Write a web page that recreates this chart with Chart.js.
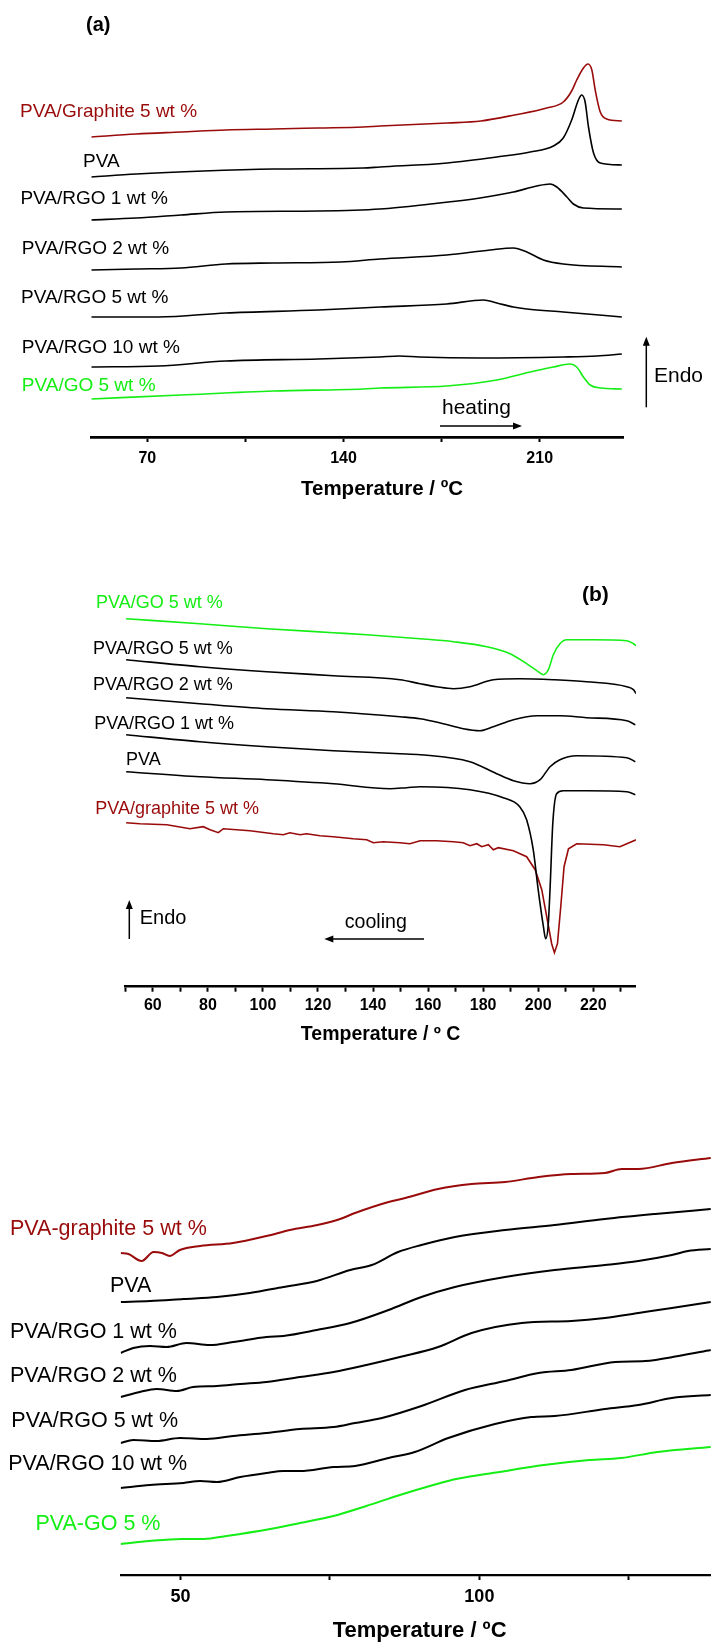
<!DOCTYPE html>
<html>
<head>
<meta charset="utf-8">
<script src="https://cdn.jsdelivr.net/npm/chart.js@4/dist/chart.umd.min.js"></script>
<style>
  html, body { margin:0; padding:0; background:#fff; }
  body { width:711px; height:1644px; overflow:hidden; position:relative; }
  canvas { position:absolute; left:0; }
</style>
</head>
<body>
<canvas id="ca" width="711" height="510" style="top:0px"></canvas>
<canvas id="cb" width="711" height="520" style="top:540px"></canvas>
<canvas id="cc" width="760" height="554" style="top:1090px"></canvas>
<script>
// ---------- DATA (temperature °C, heat flow a.u. with vertical offsets) ----------
// (a) heating scans
const heatGraphite = [[50,30.0],[66,30.3],[82,30.5],[98,30.7],[115,30.8],[131,30.9],[147,31.0],[153,31.1],[177,31.4],[189,31.6],[201,32.2],[212.5,32.9],[218.4,33.5],[221.4,34.6],[223.2,35.7],[225.6,36.9],[227.2,37.3],[228.6,36.7],[229.8,34.7],[231.6,32.5],[233.9,31.8],[239.3,31.6]];
const heatPVA = [[50,26.0],[66,26.3],[90,26.6],[115,26.8],[147,26.9],[153,27.0],[177,27.4],[194.7,28.0],[206.6,28.5],[214.9,29.1],[218.4,29.9],[221.4,31.7],[223.8,33.7],[225,34.2],[226.2,33.5],[227.4,31.0],[229.2,28.4],[231.6,27.4],[239.3,27.2]];
const heatRGO1 = [[50,21.7],[66,21.9],[82,22.2],[98,22.5],[131,22.6],[153,22.8],[171,23.3],[188.7,23.9],[200.6,24.5],[209,25.1],[213.7,25.3],[216.1,25.0],[219.7,24.0],[222,23.3],[225.6,22.9],[239.3,22.8]];
const heatRGO2 = [[50,16.7],[66,16.8],[82,16.9],[98,17.3],[115,17.4],[139,17.5],[153,17.8],[176.8,18.2],[192.3,18.7],[200.6,18.9],[205.4,18.5],[211.3,17.7],[218.4,17.3],[239.3,17.0]];
const heatRGO5 = [[50,12.0],[74,12.0],[98,12.4],[131,12.7],[153,13.0],[176.8,13.3],[189.9,13.7],[194.7,13.4],[200.6,13.0],[205.4,12.8],[218.4,12.5],[239.3,12.0]];
const heatRGO10 = [[50,7.0],[74,7.1],[98,7.6],[131,7.8],[153,8.0],[160,8.1],[167,8.0],[188.7,7.9],[218.4,8.0],[230.4,8.1],[239.3,8.3]];
const heatGO = [[50,3.8],[82,4.2],[115,4.6],[147,4.8],[153,4.9],[176.8,5.1],[194.7,5.7],[206.6,6.5],[214.9,7.0],[220.8,7.3],[223.2,7.0],[225.6,6.0],[228,5.2],[231.6,4.9],[239.3,4.8]];
const heatTicks = [70,105,140,175,210];
const heatTickLabels = [70,140,210];

// (b) cooling scans
const coolGO = [[50.3,36.8],[77.1,36.3],[101.4,35.8],[125.6,35.4],[137.7,35.2],[157.1,34.8],[169.2,34.5],[181.3,34.0],[189.8,33.3],[195.8,32.3],[199.5,31.6],[201.9,31.2],[203.7,31.7],[205.5,33.2],[207.9,34.3],[210.4,34.7],[220,34.7],[232.2,34.6],[234.6,34.3],[235.6,34.1]];
const coolRGO5 = [[50.3,32.7],[77.1,32.0],[101.4,31.5],[125.6,31.1],[149.8,30.7],[157.1,30.3],[163.1,30.0],[169.2,29.8],[175.2,30.0],[183.7,30.7],[193.3,30.8],[205.5,30.7],[217.6,30.5],[232.2,30.0],[234.6,29.7],[235.6,29.3]];
const coolRGO2 = [[50.3,28.9],[77.1,28.3],[101.4,27.8],[125.6,27.5],[149.8,27.0],[157.1,26.8],[165.5,26.3],[172.8,25.8],[178.8,25.6],[183.7,26.0],[191,26.7],[199.5,27.1],[207.9,27.1],[217.6,26.9],[232.2,26.6],[235.3,26.2]];
const coolRGO1 = [[50.3,25.2],[77.1,24.5],[101.4,24.0],[125.6,23.6],[149.8,23.3],[157.1,23.2],[175.2,22.5],[184.9,21.3],[191,20.6],[197,20.3],[200.7,20.7],[204.3,22.0],[207.9,22.7],[214,23.1],[232.2,22.9],[235.3,22.5]];
const coolPVA = [[50.3,21.5],[77.1,21.0],[101.4,20.7],[125.6,20.3],[146.2,19.8],[152.2,19.9],[157.1,20.0],[175.2,19.7],[187.3,18.9],[193.3,18.0],[195.8,16.7],[198.2,13.7],[200,9.7],[201.9,6.0],[202.7,4.8],[203.6,6.0],[204.3,9.7],[205.3,16.3],[206.7,19.3],[209.1,19.6],[217.6,19.6],[232.2,19.5],[235.3,19.2]];
const coolGraphite = [[50.3,16.4],[55.3,16.3],[65.1,16.2],[73.5,15.8],[78.3,16.0],[80.8,15.7],[83.8,15.4],[85.6,15.8],[95.3,15.6],[103.8,15.3],[107.4,15.2],[109.8,15.4],[113.5,15.2],[115.9,15.3],[120.7,15.1],[125.6,15.0],[132.8,14.8],[137.7,14.7],[140.1,14.4],[143.7,14.5],[149.8,14.4],[153.4,14.3],[157.1,14.6],[163.1,14.6],[169.2,14.5],[172.8,14.4],[175.2,14.1],[177.7,14.3],[179.5,14.0],[181.9,14.2],[183.7,13.7],[185.5,13.9],[191,13.6],[195.8,13.0],[198.9,11.7],[201.3,9.7],[203.1,7.0],[204.9,4.3],[205.9,3.4],[207,4.3],[208.2,8.0],[209.4,12.0],[211,13.8],[214,14.3],[223.7,14.2],[229.7,14.0],[232.2,14.3],[235.6,14.7]];
const coolTicks = [50,60,70,80,90,100,110,120,130,140,150,160,170,180,190,200,210,220,230];
const coolTickLabels = [60,80,100,120,140,160,180,200,220];

// (c) glass transition region
const tgGraphite = [[40,32.2],[41.3,32.1],[43.5,31.4],[45.5,32.3],[46.9,32.2],[48.2,31.9],[49.9,32.5],[53.3,32.9],[58.8,33.2],[64.4,33.9],[68.3,34.5],[72.9,35.0],[76.7,35.6],[79.2,36.2],[84.8,37.3],[87.6,37.7],[93.1,38.6],[98.7,39.1],[104.3,39.3],[109.9,39.8],[115.4,40.1],[121,40.2],[123.8,40.6],[126.6,40.6],[132.2,41.2],[138.7,41.7]];
const tgPVA = [[40,27.3],[44.9,27.4],[50.5,27.6],[56.1,27.8],[61.6,28.2],[67.2,28.8],[72.8,29.4],[78.4,30.5],[82,31.0],[86.4,32.3],[90.3,33.0],[95.9,33.8],[104.3,34.5],[112.6,35.0],[121,35.6],[129.4,36.1],[138.7,36.6]];
const tgRGO1 = [[40,22.2],[42.1,22.7],[44.9,22.9],[47.7,22.8],[51,23.2],[54.9,23.0],[58.8,23.3],[64.4,23.8],[67.2,23.9],[72.8,24.5],[78.4,25.2],[84.8,26.5],[90.3,27.8],[95.9,28.8],[104.3,29.8],[112.6,30.5],[121,31.0],[126.6,31.4],[132.2,32.0],[134.9,32.4],[138.7,32.6]];
const tgRGO2 = [[40,17.8],[43.2,18.3],[46,18.6],[49.4,18.4],[52.1,18.8],[56.1,18.9],[60,19.1],[64.4,19.3],[70,19.8],[75.6,20.3],[81.1,21.0],[86.7,21.8],[93.1,22.8],[98.7,24.2],[107.1,25.2],[115.4,25.4],[121,25.7],[126.6,26.2],[132.2,26.7],[138.7,27.3]];
const tgRGO5 = [[40,13.2],[42.1,13.5],[46,13.4],[49.9,13.7],[54.4,13.6],[58.8,13.9],[64.4,14.2],[70,14.6],[75.6,14.8],[79.2,15.2],[83.7,15.7],[90.3,16.9],[97.6,18.5],[104.3,19.4],[109.9,20.2],[115.4,20.5],[122.7,21.3],[127.7,21.4],[133.3,21.9],[138.7,22.5]];
const tgRGO10 = [[40,8.7],[44.9,9.0],[50.5,9.2],[53.3,9.4],[56.1,9.3],[60,9.8],[64.4,10.2],[67.2,10.4],[70,10.4],[75.6,10.8],[79.2,10.9],[84.8,11.7],[89.2,12.3],[94.8,13.7],[102.6,15.1],[108.7,15.8],[112.6,15.9],[121,16.6],[126.6,17.0],[132.2,17.7],[138.7,18.0]];
const tgGO = [[40,3.1],[44.8,3.4],[50.2,3.6],[53.9,3.6],[57.7,3.9],[65,4.6],[70,5.2],[75.6,5.9],[81.1,6.9],[86.7,8.0],[92.3,9.0],[96.1,9.6],[103.3,10.3],[110.8,11.0],[118.4,11.5],[123.7,11.7],[129.8,12.3],[138.7,12.8]];
const tgTicks = [50,75,100,125];
const tgTickLabels = [50,100];

// ---------- STYLE ----------
const FONT = "'Liberation Sans', Arial, Helvetica, sans-serif";
const NARROW = "'Liberation Sans Narrow', 'Arial Narrow', 'Liberation Sans', Arial, sans-serif";
const RED = '#990b0b', GREEN = '#14ee14', BLACK = '#000000';

const annot = {
  id: 'annot',
  afterDraw(chart, args, o) {
    const ctx = chart.ctx, off = o.top;
    ctx.save();
    (o.texts || []).forEach(t => {
      ctx.font = t.font; ctx.fillStyle = t.color || '#000';
      ctx.textAlign = t.align || 'left'; ctx.textBaseline = 'alphabetic';
      ctx.fillText(t.text, t.x, t.y - off);
    });
    (o.arrows || []).forEach(a => {
      const x1 = a.x1, y1 = a.y1 - off, x2 = a.x2, y2 = a.y2 - off;
      const ang = Math.atan2(y2 - y1, x2 - x1), L = 9, W = 3.5;
      ctx.strokeStyle = '#000'; ctx.fillStyle = '#000'; ctx.lineWidth = 1.5;
      ctx.beginPath(); ctx.moveTo(x1, y1);
      ctx.lineTo(x2 - Math.cos(ang) * (L - 1), y2 - Math.sin(ang) * (L - 1)); ctx.stroke();
      ctx.beginPath(); ctx.moveTo(x2, y2);
      ctx.lineTo(x2 - L * Math.cos(ang) - W * Math.sin(ang), y2 - L * Math.sin(ang) + W * Math.cos(ang));
      ctx.lineTo(x2 - L * Math.cos(ang) + W * Math.sin(ang), y2 - L * Math.sin(ang) - W * Math.cos(ang));
      ctx.closePath(); ctx.fill();
    });
    ctx.restore();
  }
};

function ds(pairs, color, width, tension) {
  const d = {
    data: pairs.map(p => ({x: p[0], y: p[1]})),
    borderColor: color, borderWidth: width, pointRadius: 0, fill: false
  };
  if (tension === 0) { d.tension = 0; } else { d.cubicInterpolationMode = 'monotone'; }
  return d;
}

function makeChart(id, c) {
  return new Chart(document.getElementById(id), {
    type: 'line',
    data: { datasets: c.datasets },
    plugins: [annot],
    options: {
      responsive: false, animation: false, devicePixelRatio: 1,
      layout: { padding: c.padding },
      plugins: { legend: {display: false}, tooltip: {enabled: false}, annot: c.annot },
      scales: {
        y: { display: false, min: c.ymin, max: c.ymax },
        x: {
          type: 'linear', position: 'bottom', min: c.xmin, max: c.xmax,
          afterBuildTicks: s => { s.ticks = c.ticks.map(v => ({value: v})); },
          afterFit: s => { s.height = c.scaleH; },
          border: { display: true, color: '#000', width: c.axisW },
          grid: { display: true, drawOnChartArea: false, drawTicks: true, tickLength: c.tickLen, tickWidth: 2, tickColor: '#000' },
          ticks: {
            autoSkip: false, maxRotation: 0, color: '#000', padding: c.tickPad,
            font: { family: c.tickFamily || FONT, size: c.tickSize, weight: 'bold' },
            callback: v => c.labels.includes(v) ? String(v) : ''
          },
          title: {
            display: !!c.title, text: c.title || '', color: '#000',
            font: { family: FONT, size: c.titleSize || 12, weight: 'bold' },
            padding: { top: 0, bottom: c.titlePadB || 0 }
          }
        }
      }
    }
  });
}

const f = (s, b) => (b ? 'bold ' : '') + s + 'px ' + FONT;

// ---------- (a) ----------
makeChart('ca', {
  datasets: [
    ds(heatGraphite, RED, 1.6), ds(heatPVA, BLACK, 1.6), ds(heatRGO1, BLACK, 1.6),
    ds(heatRGO2, BLACK, 1.6), ds(heatRGO5, BLACK, 1.6), ds(heatRGO10, BLACK, 1.6), ds(heatGO, GREEN, 1.6)
  ],
  padding: { left: 91.3, right: 87.2, top: 37, bottom: 0 },
  xmin: 50, xmax: 240, ymin: 0, ymax: 40,
  ticks: heatTicks, labels: heatTickLabels,
  scaleH: 73, axisW: 2.8, tickLen: 5, tickPad: 6.5, tickSize: 16,
  title: null,
  annot: {
    top: 0,
    texts: [
      {text: '(a)', x: 86, y: 31, font: f(20, true)},
      {text: 'PVA/Graphite 5 wt %', x: 20, y: 116.7, font: f(19), color: RED},
      {text: 'PVA', x: 83, y: 166.7, font: f(19)},
      {text: 'PVA/RGO 1 wt %', x: 20.4, y: 204, font: f(19)},
      {text: 'PVA/RGO 2 wt %', x: 21.8, y: 254, font: f(19)},
      {text: 'PVA/RGO 5 wt %', x: 21, y: 303, font: f(19)},
      {text: 'PVA/RGO 10 wt %', x: 21.8, y: 352.7, font: f(19)},
      {text: 'PVA/GO 5 wt %', x: 21.8, y: 390.7, font: f(19), color: GREEN},
      {text: 'heating', x: 442, y: 414, font: f(21)},
      {text: 'Endo', x: 654, y: 381.7, font: f(21)},
      {text: 'Temperature / ºC', x: 382, y: 495, font: f(20.5, true), align: 'center'}
    ],
    arrows: [
      {x1: 440, y1: 426, x2: 522, y2: 426},
      {x1: 646.3, y1: 407.3, x2: 646.3, y2: 336.7}
    ]
  }
});

// ---------- (b) ----------
makeChart('cb', {
  datasets: [
    ds(coolGO, GREEN, 1.6), ds(coolRGO5, BLACK, 1.6), ds(coolRGO2, BLACK, 1.6),
    ds(coolRGO1, BLACK, 1.6), ds(coolPVA, BLACK, 1.6), ds(coolGraphite, RED, 1.6, 0)
  ],
  padding: { left: 125.3, right: 75.1, top: 46.7, bottom: 0 },
  xmin: 50, xmax: 235.5, ymin: 0, ymax: 40,
  ticks: coolTicks, labels: coolTickLabels,
  scaleH: 73.3, axisW: 2.6, tickLen: 5, tickPad: 4.5, tickSize: 16, tickFamily: NARROW,
  title: 'Temperature / º C', titleSize: 19.5, titlePadB: 13.6,
  annot: {
    top: 540,
    texts: [
      {text: '(b)', x: 582, y: 600.7, font: f(21, true)},
      {text: 'PVA/GO 5 wt %', x: 96, y: 608.3, font: f(18), color: GREEN},
      {text: 'PVA/RGO 5 wt %', x: 93, y: 654, font: f(18)},
      {text: 'PVA/RGO 2 wt %', x: 93, y: 690, font: f(18)},
      {text: 'PVA/RGO 1 wt %', x: 94.3, y: 729, font: f(18)},
      {text: 'PVA', x: 126, y: 765, font: f(18)},
      {text: 'PVA/graphite 5 wt %', x: 95.2, y: 814.3, font: f(18), color: RED},
      {text: 'Endo', x: 139.7, y: 924, font: f(20)},
      {text: 'cooling', x: 344.7, y: 928.3, font: f(19.6)}
    ],
    arrows: [
      {x1: 129.3, y1: 939, x2: 129.3, y2: 900},
      {x1: 424, y1: 939, x2: 324.3, y2: 939}
    ]
  }
});

// ---------- (c) ----------
makeChart('cc', {
  datasets: [
    ds(tgGraphite, RED, 2), ds(tgPVA, BLACK, 2), ds(tgRGO1, BLACK, 2), ds(tgRGO2, BLACK, 2),
    ds(tgRGO5, BLACK, 2), ds(tgRGO10, BLACK, 2), ds(tgGO, GREEN, 2)
  ],
  padding: { left: 120.7, right: 41.5, top: 35, bottom: 0 },
  xmin: 40, xmax: 140, ymin: 0, ymax: 45,
  ticks: tgTicks, labels: tgTickLabels,
  scaleH: 69, axisW: 2.2, tickLen: 5, tickPad: 6.5, tickSize: 18,
  title: 'Temperature / ºC', titleSize: 22, titlePadB: 0,
  annot: {
    top: 1090,
    texts: [
      {text: 'PVA-graphite 5 wt %', x: 10, y: 1235, font: f(21.5), color: RED},
      {text: 'PVA', x: 110, y: 1291.7, font: f(21.5)},
      {text: 'PVA/RGO 1 wt %', x: 10, y: 1338.3, font: f(21.5)},
      {text: 'PVA/RGO 2 wt %', x: 10, y: 1381.7, font: f(21.5)},
      {text: 'PVA/RGO 5 wt %', x: 11.3, y: 1426.7, font: f(21.5)},
      {text: 'PVA/RGO 10 wt %', x: 8.2, y: 1470, font: f(21.5)},
      {text: 'PVA-GO 5 %', x: 35.4, y: 1530, font: f(21.5), color: GREEN}
    ],
    arrows: []
  }
});
</script>
</body>
</html>
